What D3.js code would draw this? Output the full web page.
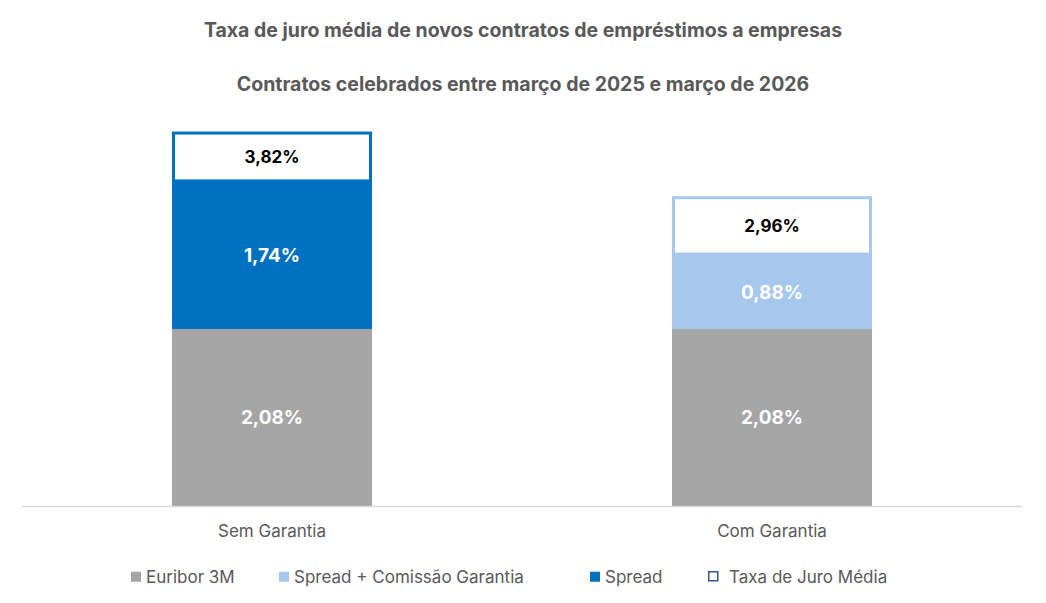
<!DOCTYPE html>
<html><head><meta charset="utf-8">
<script src="https://cdn.jsdelivr.net/npm/d3@7"></script>
<style>body{margin:0;background:#fff;font-family:Inter,"Open Sans",sans-serif}</style>
</head><body><div id="chart"></div>
<script>
const categories = ['Sem Garantia', 'Com Garantia'];
const euribor = [2.08, 2.08];
const spread = [1.74, 0];
const spreadComissao = [0, 0.88];
const totalBox = [0.58, 0.68]; // white cap segment holding the total label
const totals = ['3,82%', '2,96%'];
const legendItems = ['Euribor 3M', 'Spread + Comissão Garantia', 'Spread', 'Taxa de Juro Média'];

const W = 1046, H = 603;
const svg = d3.select('#chart').append('svg').attr('width', W).attr('height', H);

const x = d3.scaleBand().domain(categories).range([22, 1022]).paddingInner(0.6).paddingOuter(0.3);
const y = d3.scaleLinear().domain([0, 4.7]).range([506, 106]);
const fmt = v => v.toFixed(2).replace('.', ',') + '%';

svg.append('text').attr('x', 523).attr('y', 37).attr('text-anchor', 'middle')
  .attr('font-size', 19.5).attr('font-weight', 700).attr('fill', '#595959')
  .text('Taxa de juro média de novos contratos de empréstimos a empresas');
svg.append('text').attr('x', 523).attr('y', 91).attr('text-anchor', 'middle')
  .attr('font-size', 19.5).attr('font-weight', 700).attr('fill', '#595959')
  .text('Contratos celebrados entre março de 2025 e março de 2026');

categories.forEach((c, i) => {
  const bx = x(c), bw = x.bandwidth();
  let base = 0;
  const segs = [
    {v: euribor[i], fill: '#A5A5A5'},
    {v: spread[i], fill: '#0070C0'},
    {v: spreadComissao[i], fill: '#A6C8EC'}
  ];
  segs.forEach(s => {
    if (!s.v) return;
    svg.append('rect').attr('x', bx).attr('width', bw)
      .attr('y', y(base + s.v)).attr('height', y(base) - y(base + s.v)).attr('fill', s.fill);
    svg.append('text').attr('x', bx + bw / 2).attr('y', (y(base) + y(base + s.v)) / 2 + 7)
      .attr('text-anchor', 'middle').attr('font-size', 19).attr('font-weight', 700)
      .attr('fill', '#fff').text(fmt(s.v));
    base += s.v;
  });
  const top = base + totalBox[i];
  svg.append('rect').attr('x', bx + 1.5).attr('width', bw - 3)
    .attr('y', y(top) + 1.5).attr('height', y(base) - y(top) - 1.5)
    .attr('fill', '#fff').attr('stroke', i === 0 ? '#0070C0' : '#A6C8EC').attr('stroke-width', 3);
  svg.append('text').attr('x', bx + bw / 2).attr('y', (y(base) + y(top)) / 2 + 7)
    .attr('text-anchor', 'middle').attr('font-size', 17).attr('font-weight', 700)
    .attr('fill', '#000').text(totals[i]);
  svg.append('text').attr('x', bx + bw / 2).attr('y', 537).attr('text-anchor', 'middle')
    .attr('font-size', 17).attr('fill', '#595959').text(c);
});

svg.append('line').attr('x1', 22).attr('x2', 1022).attr('y1', 506.5).attr('y2', 506.5)
  .attr('stroke', '#D9D9D9').attr('stroke-width', 1.5);

const legX = [131, 279, 590, 708];
const legFill = ['#A5A5A5', '#A6C8EC', '#0070C0', '#fff'];
legendItems.forEach((t, i) => {
  svg.append('rect').attr('x', legX[i] + (i === 3 ? 0.75 : 0)).attr('y', 571.75)
    .attr('width', i === 3 ? 9 : 10).attr('height', i === 3 ? 9 : 10)
    .attr('fill', legFill[i]).attr('stroke', i === 3 ? '#2F5597' : 'none').attr('stroke-width', 1.5);
  svg.append('text').attr('x', legX[i] + (i === 3 ? 21 : 15)).attr('y', 583)
    .attr('font-size', 17).attr('fill', '#595959').text(t);
});
</script></body></html>
